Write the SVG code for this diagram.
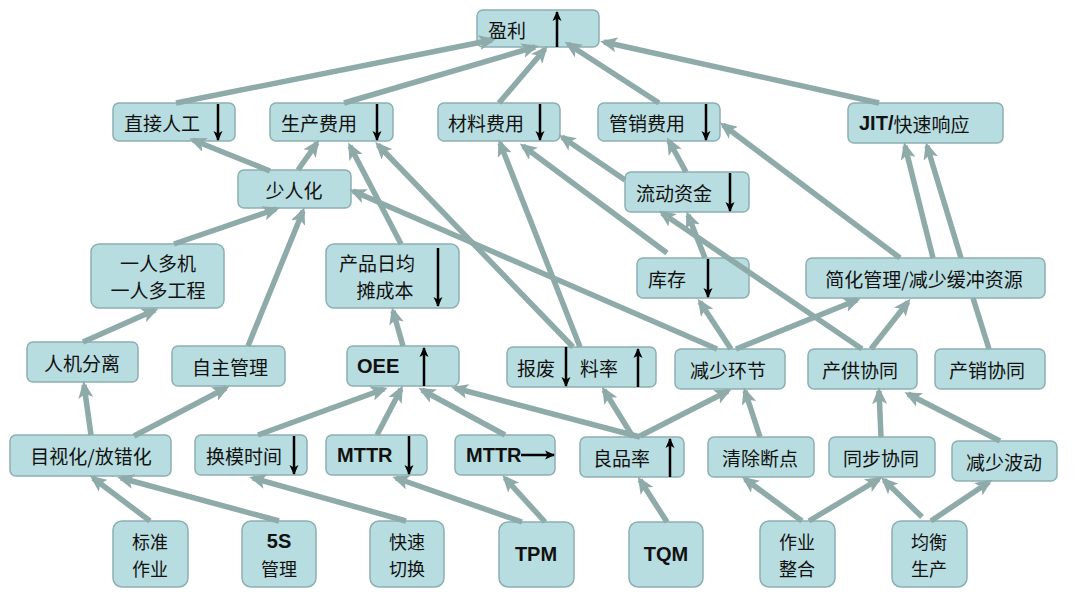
<svg xmlns="http://www.w3.org/2000/svg" width="1080" height="592" viewBox="0 0 1080 592">
<defs>
<style>
.box{fill:#b8dde0;stroke:#8cafb2;stroke-width:1.5}
.t{font-family:"Noto Sans CJK SC","Liberation Sans",sans-serif;font-size:19px;fill:#111;dominant-baseline:central}
.s{font-size:18px}
.m{text-anchor:middle}
.b{font-family:"Liberation Sans",Arial,sans-serif;font-weight:bold;font-size:20px}
.c{fill:none;stroke:#8eaaa9;stroke-width:5.5;marker-end:url(#ah)}
.k{fill:none;stroke:#000;stroke-width:2.5;marker-end:url(#bh)}
</style>
<marker id="ah" viewBox="0 0 17 15" markerWidth="17" markerHeight="15" refX="13" refY="7.5" orient="auto" markerUnits="userSpaceOnUse"><path d="M0,0 L17,7.5 L0,15 L4,7.5 z" fill="#8eaaa9"/></marker>
<marker id="bh" viewBox="0 0 10 10" markerWidth="10" markerHeight="10" refX="9" refY="5" orient="auto" markerUnits="userSpaceOnUse"><path d="M0,0.5 L10,5 L0,9.5 L2.5,5 z" fill="#000"/></marker>
</defs>
<rect width="1080" height="592" fill="#fff"/>

<g id="connector-behind">
<path class="c" d="M989,349 L973,298 M961,258 L927,146"/>
</g>

<g id="n-yingli"><rect class="box" x="477" y="10" width="122" height="37" rx="6"/><text class="t" x="488" y="29">盈利</text><line class="k" x1="557" y1="47" x2="557" y2="12"/></g>
<g id="n-zhijie"><rect class="box" x="113" y="103" width="122" height="38" rx="6"/><text class="t" x="124" y="122">直接人工</text><line class="k" x1="218" y1="104" x2="218" y2="140"/></g>
<g id="n-shengchan"><rect class="box" x="270" y="103" width="123" height="38" rx="6"/><text class="t" x="281" y="122">生产费用</text><line class="k" x1="377" y1="104" x2="377" y2="140"/></g>
<g id="n-cailiao"><rect class="box" x="438" y="103" width="122" height="38" rx="6"/><text class="t" x="448" y="122">材料费用</text><line class="k" x1="540" y1="104" x2="540" y2="140"/></g>
<g id="n-guanxiao"><rect class="box" x="598" y="103" width="122" height="38" rx="6"/><text class="t" x="609" y="122">管销费用</text><line class="k" x1="706" y1="104" x2="706" y2="140"/></g>
<g id="n-jit"><rect class="box" x="848" y="103" width="155" height="40" rx="6"/><text class="t" x="859" y="123"><tspan class="b">JIT/</tspan>快速响应</text></g>
<g id="n-shaoren"><rect class="box" x="238" y="170" width="113" height="38" rx="6"/><text class="t m" x="294" y="189">少人化</text></g>
<g id="n-liudong"><rect class="box" x="625" y="172" width="124" height="40" rx="6"/><text class="t" x="636" y="192">流动资金</text><line class="k" x1="730" y1="173" x2="730" y2="211"/></g>
<g id="n-yiren"><rect class="box" x="91" y="244" width="133" height="64" rx="8"/><text class="t m" x="158" y="262">一人多机<tspan x="158" dy="27">一人多工程</tspan></text></g>
<g id="n-chanpin"><rect class="box" x="326" y="244" width="133" height="64" rx="8"/><text class="t m" x="377" y="262">产品日均<tspan x="385" dy="27">摊成本</tspan></text><line class="k" x1="438" y1="248" x2="438" y2="306"/></g>
<g id="n-kucun"><rect class="box" x="637" y="258" width="112" height="40" rx="6"/><text class="t" x="648" y="278">库存</text><line class="k" x1="708" y1="259" x2="708" y2="297"/></g>
<g id="n-jianhua"><rect class="box" x="806" y="258" width="239" height="40" rx="6"/><text class="t m" x="924" y="278">简化管理/减少缓冲资源</text></g>
<g id="n-renji"><rect class="box" x="27" y="342" width="111" height="40" rx="6"/><text class="t m" x="82" y="362">人机分离</text></g>
<g id="n-zizhu"><rect class="box" x="172" y="346" width="113" height="40" rx="6"/><text class="t m" x="230" y="366">自主管理</text></g>
<g id="n-oee"><rect class="box" x="347" y="346" width="112" height="40" rx="6"/><text class="t b" x="357" y="366">OEE</text><line class="k" x1="424" y1="386" x2="424" y2="348"/></g>
<g id="n-baofei"><rect class="box" x="507" y="347" width="149" height="40" rx="6"/><text class="t" x="517" y="367">报废</text><line class="k" x1="566" y1="347" x2="566" y2="386"/><text class="t" x="580" y="367">料率</text><line class="k" x1="638" y1="387" x2="638" y2="349"/></g>
<g id="n-jianshao"><rect class="box" x="675" y="349" width="110" height="40" rx="6"/><text class="t m" x="728" y="369">减少环节</text></g>
<g id="n-changong"><rect class="box" x="808" y="349" width="109" height="40" rx="6"/><text class="t m" x="860" y="369">产供协同</text></g>
<g id="n-chanxiao"><rect class="box" x="935" y="349" width="110" height="40" rx="6"/><text class="t m" x="987" y="369">产销协同</text></g>
<g id="n-mushi"><rect class="box" x="10" y="435" width="161" height="41" rx="6"/><text class="t m" x="91" y="455">目视化/放错化</text></g>
<g id="n-huanmo"><rect class="box" x="195" y="435" width="112" height="40" rx="6"/><text class="t" x="206" y="455">换模时间</text><line class="k" x1="294" y1="436" x2="294" y2="474"/></g>
<g id="n-mttr1"><rect class="box" x="326" y="435" width="101" height="40" rx="6"/><text class="t b" x="337" y="455">MTTR</text><line class="k" x1="409" y1="436" x2="409" y2="474"/></g>
<g id="n-mttr2"><rect class="box" x="455" y="435" width="100" height="40" rx="6"/><text class="t b" x="466" y="455">MTTR</text><line class="k" x1="521" y1="455" x2="554" y2="455"/></g>
<g id="n-liangpin"><rect class="box" x="580" y="437" width="104" height="40" rx="6"/><text class="t" x="593" y="457">良品率</text><line class="k" x1="670" y1="477" x2="670" y2="439"/></g>
<g id="n-qingchu"><rect class="box" x="708" y="437" width="106" height="40" rx="6"/><text class="t m" x="760" y="457">清除断点</text></g>
<g id="n-tongbu"><rect class="box" x="829" y="437" width="106" height="40" rx="6"/><text class="t m" x="881" y="457">同步协同</text></g>
<g id="n-bodong"><rect class="box" x="952" y="441" width="105" height="40" rx="6"/><text class="t m" x="1004" y="461">减少波动</text></g>
<g id="n-biaozhun"><rect class="box" x="113" y="521" width="75" height="66" rx="9"/><text class="t s m" x="150" y="541">标准<tspan x="150" dy="26.5">作业</tspan></text></g>
<g id="n-5s"><rect class="box" x="242" y="521" width="74" height="66" rx="9"/><text class="t s m" x="279" y="541"><tspan class="b">5S</tspan><tspan x="279" dy="26.5">管理</tspan></text></g>
<g id="n-kuaisu"><rect class="box" x="370" y="521" width="74" height="66" rx="9"/><text class="t s m" x="407" y="541">快速<tspan x="407" dy="26.5">切换</tspan></text></g>
<g id="n-tpm"><rect class="box" x="499" y="522" width="75" height="65" rx="9"/><text class="t m b" x="536" y="554">TPM</text></g>
<g id="n-tqm"><rect class="box" x="629" y="522" width="74" height="65" rx="9"/><text class="t m b" x="666" y="554">TQM</text></g>
<g id="n-zuoye"><rect class="box" x="760" y="521" width="75" height="66" rx="9"/><text class="t s m" x="797" y="541">作业<tspan x="797" dy="26.5">整合</tspan></text></g>
<g id="n-junheng"><rect class="box" x="892" y="521" width="75" height="66" rx="9"/><text class="t s m" x="929" y="541">均衡<tspan x="929" dy="26.5">生产</tspan></text></g>

<g id="connectors">
<line class="c" x1="176" y1="103" x2="492" y2="40"/>
<line class="c" x1="344" y1="103" x2="535" y2="47"/>
<line class="c" x1="499" y1="103" x2="545" y2="49"/>
<line class="c" x1="659" y1="103" x2="568" y2="44"/>
<line class="c" x1="879" y1="103" x2="604" y2="42"/>
<line class="c" x1="270" y1="171" x2="193" y2="140"/>
<line class="c" x1="298" y1="170" x2="317" y2="143"/>
<line class="c" x1="401" y1="244" x2="350" y2="146"/>
<line class="c" x1="573" y1="347" x2="378" y2="145"/>
<line class="c" x1="580" y1="347" x2="500" y2="143"/>
<line class="c" x1="667" y1="253" x2="523" y2="146"/>
<line class="c" x1="625" y1="180" x2="562" y2="137"/>
<line class="c" x1="686" y1="172" x2="669" y2="141"/>
<line class="c" x1="900" y1="258" x2="723" y2="125"/>
<line class="c" x1="933" y1="258" x2="905" y2="146"/>
<line class="c" x1="705" y1="258" x2="688" y2="215"/>
<line class="c" x1="862" y1="349" x2="662" y2="213"/>
<line class="c" x1="717" y1="349" x2="353" y2="191"/>
<line class="c" x1="731" y1="349" x2="700" y2="302"/>
<line class="c" x1="736" y1="349" x2="857" y2="300"/>
<line class="c" x1="871" y1="349" x2="908" y2="302"/>
<line class="c" x1="174" y1="244" x2="276" y2="209"/>
<line class="c" x1="248" y1="346" x2="303" y2="211"/>
<line class="c" x1="83" y1="342" x2="155" y2="310"/>
<line class="c" x1="403" y1="346" x2="393" y2="311"/>
<line class="c" x1="91" y1="435" x2="84" y2="385"/>
<line class="c" x1="134" y1="436" x2="226" y2="388"/>
<line class="c" x1="258" y1="435" x2="384" y2="389"/>
<line class="c" x1="377" y1="435" x2="401" y2="389"/>
<line class="c" x1="505" y1="435" x2="422" y2="390"/>
<line class="c" x1="640" y1="437" x2="455" y2="388"/>
<line class="c" x1="633" y1="437" x2="604" y2="390"/>
<line class="c" x1="640" y1="436" x2="728" y2="391"/>
<line class="c" x1="760" y1="437" x2="745" y2="391"/>
<line class="c" x1="881" y1="437" x2="879" y2="391"/>
<line class="c" x1="1000" y1="441" x2="908" y2="394"/>
<line class="c" x1="150" y1="521" x2="93" y2="478"/>
<line class="c" x1="279" y1="521" x2="121" y2="478"/>
<line class="c" x1="406" y1="521" x2="253" y2="478"/>
<line class="c" x1="522" y1="522" x2="396" y2="478"/>
<line class="c" x1="545" y1="522" x2="505" y2="478"/>
<line class="c" x1="667" y1="522" x2="640" y2="480"/>
<line class="c" x1="802" y1="521" x2="745" y2="479"/>
<line class="c" x1="809" y1="521" x2="879" y2="479"/>
<line class="c" x1="922" y1="517" x2="884" y2="480"/>
<line class="c" x1="931" y1="521" x2="989" y2="482"/>
</g>
</svg>
